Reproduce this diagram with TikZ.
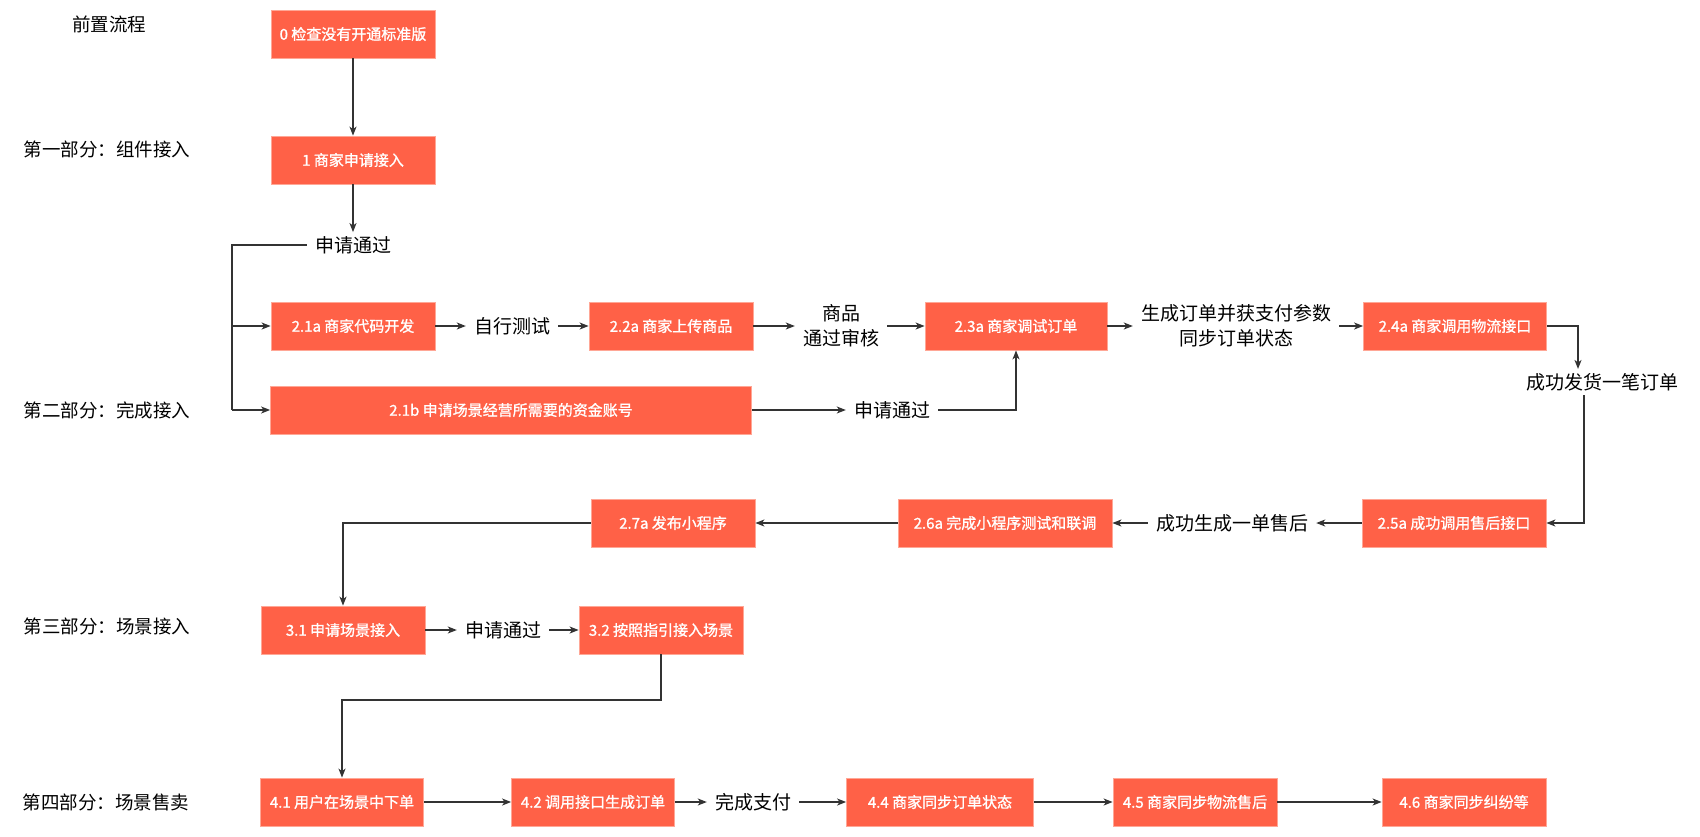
\documentclass[tikz,border=0pt]{standalone}
\usepackage{fontspec}
\setmainfont{Noto Sans CJK SC}
\newfontfamily\boxfont[FakeBold=1.2]{Noto Sans CJK SC}
\usetikzlibrary{arrows.meta}
\definecolor{boxfill}{HTML}{FF6147}
\definecolor{boxline}{HTML}{FFA796}
\definecolor{lnc}{HTML}{333333}
\begin{document}
\begin{tikzpicture}[x=1pt,y=-1pt,
  box/.style={rectangle,fill=boxfill,draw=boxline,line width=0.8pt,text=white,
    font=\boxfont\fontsize{15}{18}\selectfont,minimum height=48pt,inner sep=0pt},
  lbl/.style={font=\fontsize{19}{25}\selectfont,inner xsep=8pt,inner ysep=4pt,align=center},
  side/.style={font=\fontsize{18.5}{22}\selectfont,inner sep=0pt},
  conn/.style={draw=lnc,line width=1.3pt,-{Stealth[length=9pt,width=7pt,inset=2.5pt]}},
  plain/.style={draw=lnc,line width=1.3pt}]
\useasboundingbox (0,0) rectangle (1700,836);
\fill[white] (0,0) rectangle (1700,836);

% side labels
\node[side] (s0) at (109,24) {前置流程};
\node[side] (s1) at (107,149) {第一部分：组件接入};
\node[side] (s2) at (107,410) {第二部分：完成接入};
\node[side] (s3) at (107,626) {第三部分：场景接入};
\node[side] (s4) at (106,802) {第四部分：场景售卖};

% boxes
\node[box,minimum width=164pt] (b0) at (353,34) {0 检查没有开通标准版};
\node[box,minimum width=164pt] (b1) at (353,160) {1 商家申请接入};
\node[box,minimum width=164pt] (b21a) at (353,326) {2.1a 商家代码开发};
\node[box,minimum width=164pt] (b22a) at (671,326) {2.2a 商家上传商品};
\node[box,minimum width=182pt] (b23a) at (1016,326) {2.3a 商家调试订单};
\node[box,minimum width=183pt] (b24a) at (1455,326) {2.4a 商家调用物流接口};
\node[box,minimum width=481pt] (b21b) at (511,410) {2.1b 申请场景经营所需要的资金账号};
\node[box,minimum width=184pt] (b25a) at (1454,523) {2.5a 成功调用售后接口};
\node[box,minimum width=214pt] (b26a) at (1005,523) {2.6a 完成小程序测试和联调};
\node[box,minimum width=164pt] (b27a) at (673,523) {2.7a 发布小程序};
\node[box,minimum width=164pt] (b31) at (343,630) {3.1 申请场景接入};
\node[box,minimum width=164pt] (b32) at (661,630) {3.2 按照指引接入场景};
\node[box,minimum width=163pt] (b41) at (342,802) {4.1 用户在场景中下单};
\node[box,minimum width=163pt] (b42) at (593,802) {4.2 调用接口生成订单};
\node[box,minimum width=187pt] (b44) at (940,802) {4.4 商家同步订单状态};
\node[box,minimum width=164pt] (b45) at (1195,802) {4.5 商家同步物流售后};
\node[box,minimum width=164pt] (b46) at (1464,802) {4.6 商家同步纠纷等};

% text nodes
\node[lbl] (t1) at (353,245) {申请通过};
\node[lbl] (t2) at (512,326) {自行测试};
\node[lbl] (t3) at (841,326) {商品\\通过审核};
\node[lbl] (t4) at (1236,326) {生成订单并获支付参数\\同步订单状态};
\node[lbl] (t5) at (1602,382) {成功发货一笔订单};
\node[lbl] (t6) at (892,410) {申请通过};
\node[lbl] (t7) at (1232,523) {成功生成一单售后};
\node[lbl] (t8) at (503,630) {申请通过};
\node[lbl] (t9) at (753,802) {完成支付};

% junction coordinates
\coordinate (j1) at (232,326);
\coordinate (j2) at (232,410);
\coordinate (k1) at (661,700);

% connectors
\draw[conn] (b0) -- (b1);
\draw[conn] (b1) -- (t1);
\draw[plain] (t1.west) -| (j2);
\draw[conn] (j1) -- (b21a);
\draw[conn] (j2) -- (b21b);

\draw[conn] (b21a) -- (t2);
\draw[conn] (t2) -- (b22a);
\draw[conn] (b22a) -- (t3);
\draw[conn] (t3) -- (b23a);
\draw[conn] (b23a) -- (t4);
\draw[conn] (t4) -- (b24a);
\draw[conn] (b24a.east) -| ([xshift=-24pt]t5.north);
\draw[conn] ([xshift=-18pt]t5.south) |- (b25a.east);

\draw[conn] (b21b) -- (t6);
\draw[conn] (t6.east) -| (b23a.south);

\draw[conn] (b25a) -- (t7);
\draw[conn] (t7) -- (b26a);
\draw[conn] (b26a) -- (b27a);
\draw[conn] (b27a.west) -| (b31.north);

\draw[conn] (b31) -- (t8);
\draw[conn] (t8) -- (b32);
\draw[conn] (b32.south) -- (k1) -| (b41.north);

\draw[conn] (b41) -- (b42);
\draw[conn] (b42) -- (t9);
\draw[conn] (t9) -- (b44);
\draw[conn] (b44) -- (b45);
\draw[conn] (b45) -- (b46);
\end{tikzpicture}
\end{document}
